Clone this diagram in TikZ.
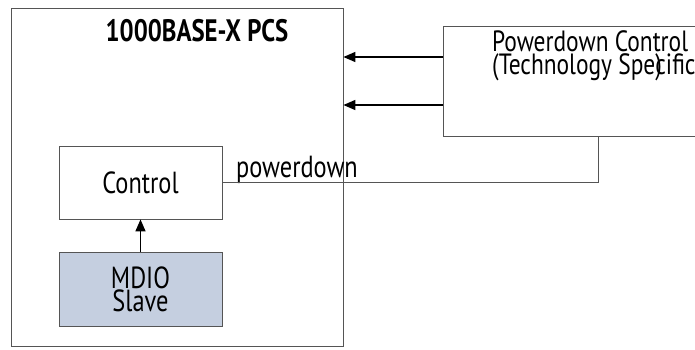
\documentclass[tikz,border=0pt]{standalone}
\usepackage{fontspec}
\setmainfont{PT Sans}[FakeStretch=0.8]
\usetikzlibrary{arrows.meta}
\definecolor{mdiofill}{HTML}{C5CFE0}
\definecolor{boxline}{HTML}{555555}
\tikzset{
  blk/.style={draw=boxline, line width=0.8pt, rectangle, inner sep=0pt, align=center},
  txt/.style={font=\fontsize{30.5}{20.5}\selectfont},
  sig/.style={draw=black, line width=1.4pt, -{Triangle[length=12pt,width=10pt]}},
  wire/.style={draw=boxline, line width=0.8pt}
}
\begin{document}
\begin{tikzpicture}[x=1pt,y=-1pt]
\useasboundingbox (0,0) rectangle (695,349);
\node[blk, minimum width=332pt, minimum height=338pt] (pcs) at (177,177) {};
\node[font=\fontsize{31}{20}\selectfont\bfseries, inner sep=0pt, anchor=base] (pcstitle) at (197,41) {1000BASE-X PCS};
\node[blk, txt, minimum width=163pt, minimum height=73pt] (ctrl) at (140.5,182.5) {Control};
\node[blk, txt, fill=mdiofill, minimum width=163pt, minimum height=74pt] (mdio) at (140.5,289) {MDIO\\Slave};
\node[blk, minimum width=262pt, minimum height=110pt] (pdc) at (574,81) {};
\node[font=\fontsize{29.3}{21}\selectfont, align=left, inner sep=0pt, anchor=base west] (pdctext) at (492,74) {Powerdown Control\\(Technology Spe\makebox[0pt][l]{)}cific};
\node[txt, inner sep=0pt, anchor=base west] (pdlabel) at (236,177) {powerdown};
\coordinate (tap) at (598,136);
\draw[sig] (mdio.north) -- (ctrl.south);
\draw[sig] (pdc.west |- 0,57) -- (pcs.east |- 0,57);
\draw[sig] (pdc.west |- 0,105) -- (pcs.east |- 0,105);
\draw[wire] (ctrl.east) -| (tap);
\end{tikzpicture}
\end{document}
